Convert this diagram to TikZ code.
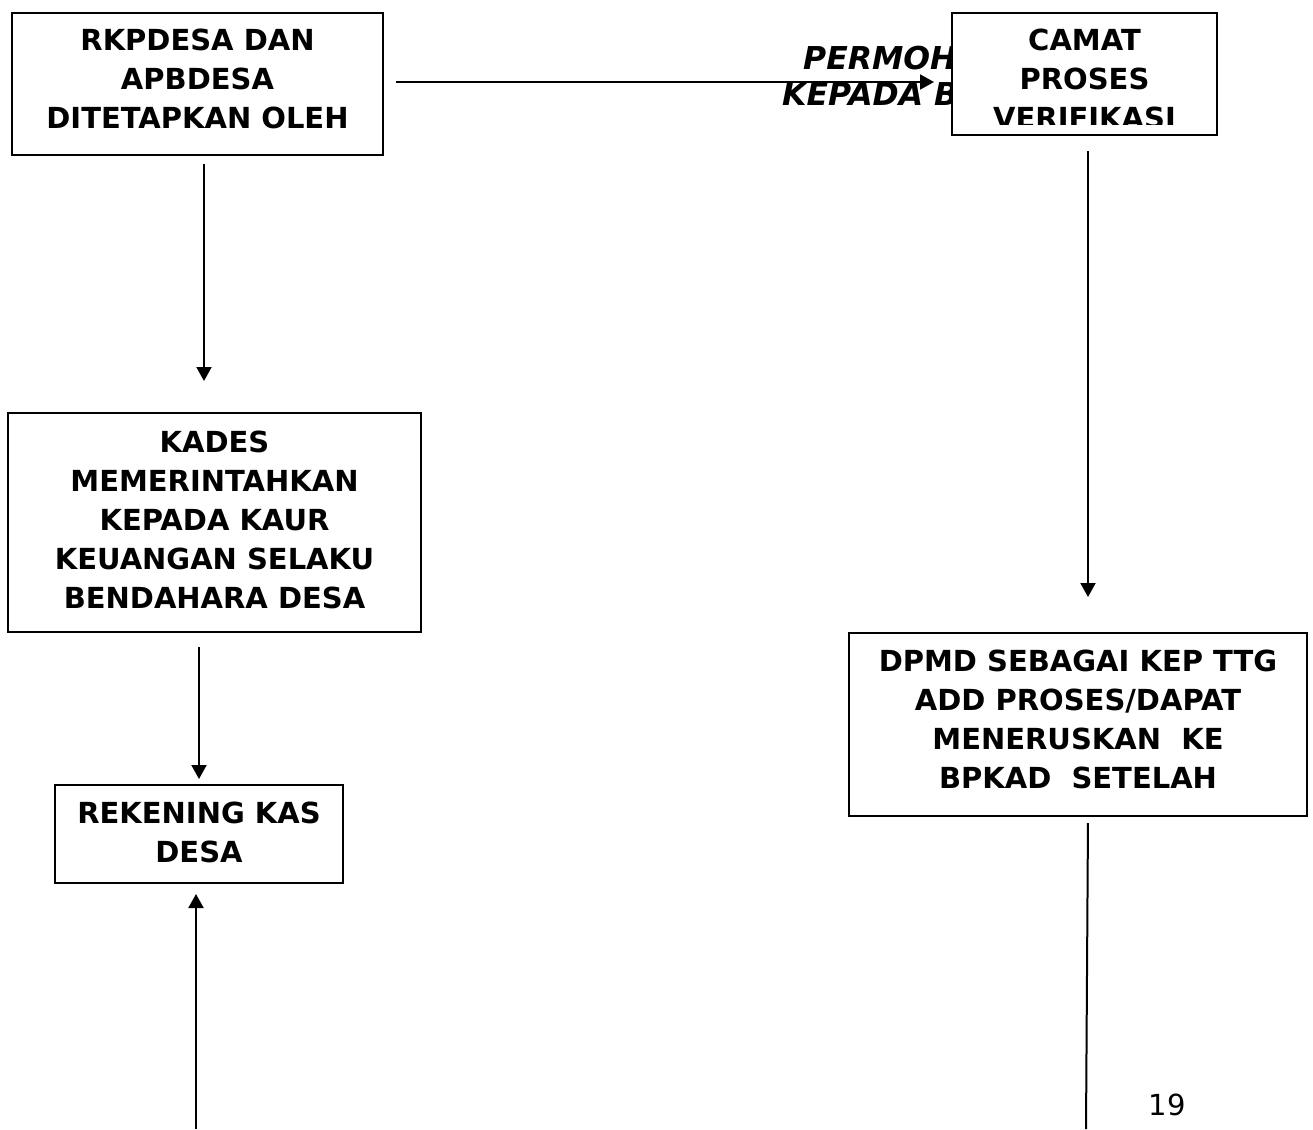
\documentclass[tikz,border=0pt]{standalone}
\usepackage{fontspec}
\setmainfont{DejaVu Sans}
\usetikzlibrary{arrows.meta}
\begin{document}
\begin{tikzpicture}[x=1pt,y=-1pt,
  box/.style={draw, line width=2pt, fill=white, inner sep=0pt},
  txt/.style={inner sep=0pt, align=center, font=\bfseries\fontsize{29}{39}\selectfont},
  ital/.style={inner sep=0pt, anchor=base west, font=\bfseries\itshape\fontsize{31.5}{36}\selectfont},
  arr/.style={line width=2pt, -{Triangle[length=14pt,width=15pt]}},
  ln/.style={line width=2pt}]
\useasboundingbox (0,0) rectangle (1313,1129);
% label partly hidden behind the CAMAT box
\begin{scope}
  \clip (700,0) rectangle (952,150);
  \node[ital] (perm1) at (803,70) {PERMOH};
  \node[ital] (perm2) at (782,106) {KEPADA B};
\end{scope}
% boxes
\node[box, minimum width=371pt, minimum height=142pt] (rkp) at (197.5,84) {};
\node[txt] (rkptext) at (197.5,78.5) {RKPDESA DAN\\APBDESA\\DITETAPKAN OLEH};
\node[box, minimum width=265pt, minimum height=122pt] (camat) at (1084.5,74) {};
\begin{scope}
  \clip (camat.north west) rectangle ([yshift=12pt]camat.south east);
  \node[txt] (camattext) at (1084.5,78.5) {CAMAT\\PROSES\\VERIFIKASI};
\end{scope}
\node[box, minimum width=413pt, minimum height=219pt] (kades) at (214.5,522.5) {};
\node[txt] (kadestext) at (214.5,519.5) {KADES\\MEMERINTAHKAN\\KEPADA KAUR\\KEUANGAN SELAKU\\BENDAHARA DESA};
\node[box, minimum width=288pt, minimum height=98pt] (rek) at (199,834) {};
\node[txt] (rektext) at (199,832) {REKENING KAS\\DESA};
\node[box, minimum width=458pt, minimum height=183pt] (dpmd) at (1078,724.5) {};
\node[txt] (dpmdtext) at (1078,719.5) {DPMD SEBAGAI KEP TTG\\ADD PROSES/DAPAT\\MENERUSKAN\ \ KE\\BPKAD\ \ SETELAH};
% connectors
\draw[arr, shorten <=12pt, shorten >=17pt] ([yshift=2pt]rkp.east) -- ([yshift=2pt]rkp.east -| camat.west);
\draw[arr, shorten <=8pt, shorten >=31pt] ([xshift=6.5pt]rkp.south) -- ([xshift=6.5pt]rkp.south |- kades.north);
\draw[arr, shorten <=14pt, shorten >=5pt] (rek.north |- kades.south) -- (rek.north);
\coordinate (b1) at (196,1129);
\draw[arr, shorten >=10pt] (b1) -- (b1 |- rek.south);
\draw[arr, shorten <=15pt, shorten >=35pt] ([xshift=3.5pt]camat.south) -- ([xshift=3.5pt]camat.south |- dpmd.north);
\coordinate (b2) at (1086,1129);
\draw[ln, shorten <=6pt] ([xshift=10pt]dpmd.south) -- (b2);
% page number
\node[inner sep=0pt, font=\fontsize{29}{34}\selectfont] (pg) at (1167,1105) {19};
\end{tikzpicture}
\end{document}
